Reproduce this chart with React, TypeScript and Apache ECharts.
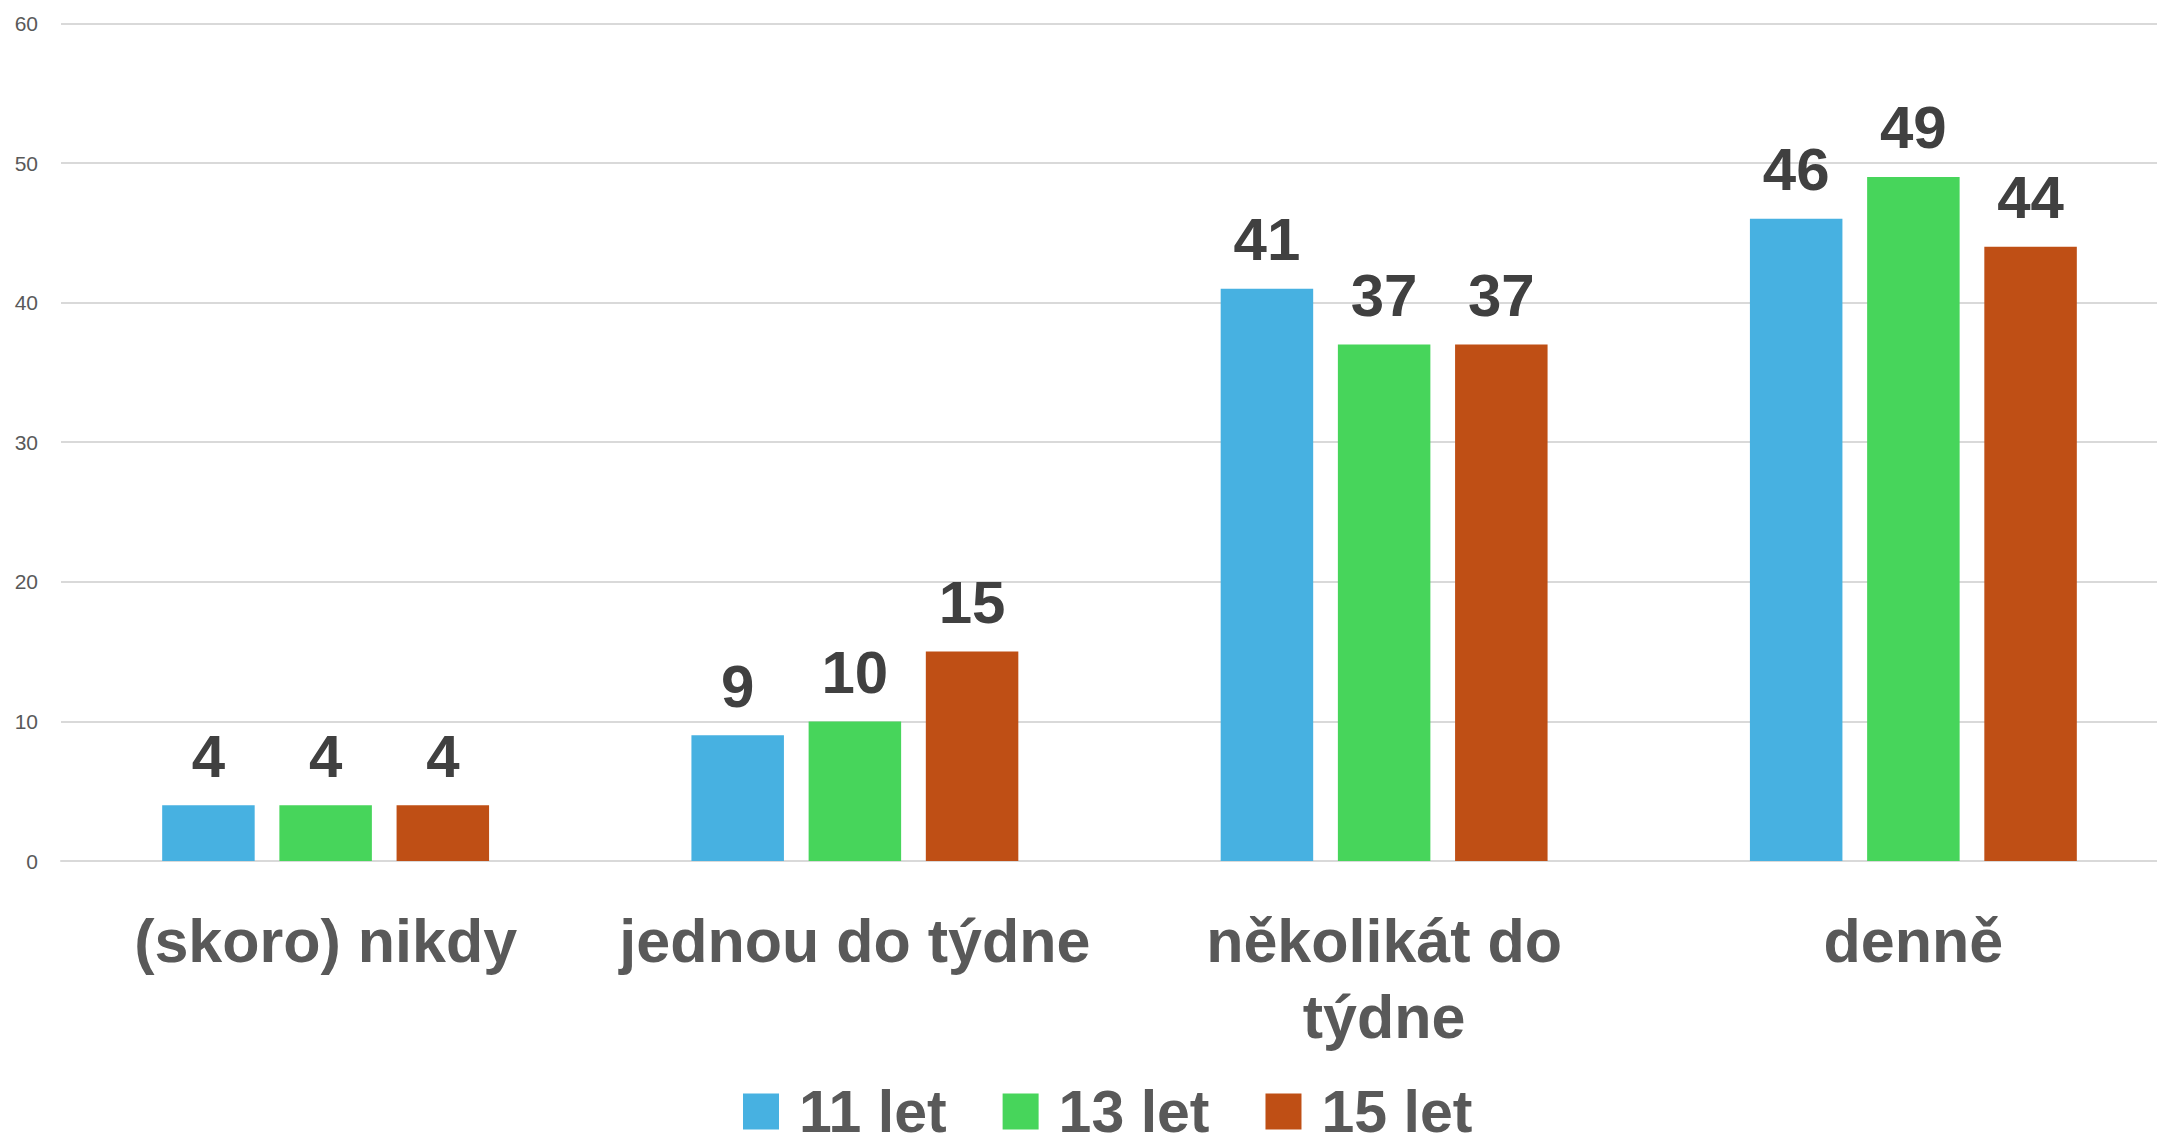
import React, { useEffect, useRef } from "react";
import * as echarts from "echarts";

const categories = ["(skoro) nikdy", "jednou do týdne", "několikát do\ntýdne", "denně"];
const seriesNames = ["11 let", "13 let", "15 let"];
const values11 = [4, 9, 41, 46];
const values13 = [4, 10, 37, 49];
const values15 = [4, 15, 37, 44];
const colors = ["#47B1E1", "#47D55B", "#BF4F15"];
const yTicks = { min: 0, max: 60, interval: 10 };

export default function App() {
  const ref = useRef<HTMLDivElement>(null);
  useEffect(() => {
    document.body.style.margin = "0";
    document.body.style.overflow = "hidden";
    if (!ref.current) return;
    const chart = echarts.init(ref.current, undefined, { renderer: "svg" });
    const data = [values11, values13, values15];
    const labelFont = "'Liberation Sans', Arial, sans-serif";
    chart.setOption({
      animation: false,
      backgroundColor: "#ffffff",
      grid: { left: 61, top: 23.4, width: 2117, height: 837.6, containLabel: false },
      legend: {
        left: 743,
        top: 1082,
        padding: 0,
        itemWidth: 36,
        itemHeight: 36,
        itemGap: 56,
        icon: "rect",
        data: seriesNames,
        textStyle: {
          fontFamily: labelFont,
          fontWeight: "bold",
          fontSize: 59,
          lineHeight: 50,
          color: "#595959",
          padding: [0, 0, 0, 15],
        },
      },
      xAxis: {
        type: "category",
        data: categories,
        axisLine: { show: true, lineStyle: { color: "#d9d9d9", width: 2 } },
        axisTick: { show: false },
        axisLabel: {
          fontFamily: labelFont,
          fontWeight: "bold",
          fontSize: 61,
          lineHeight: 76,
          color: "#595959",
          margin: 42,
          interval: 0,
        },
      },
      yAxis: {
        type: "value",
        min: yTicks.min,
        max: yTicks.max,
        interval: yTicks.interval,
        axisLine: { show: false },
        axisTick: { show: false },
        splitLine: { lineStyle: { color: "#d9d9d9", width: 2 } },
        axisLabel: {
          fontFamily: labelFont,
          fontSize: 21,
          color: "#595959",
          margin: 23,
        },
      },
      series: seriesNames.map((name, i) => ({
        name,
        type: "bar",
        data: data[i],
        barWidth: 92.5,
        barGap: "26.7%",
        itemStyle: { color: colors[i] },
        label: {
          show: true,
          position: "top",
          distance: 20,
          fontFamily: labelFont,
          fontWeight: "bold",
          fontSize: 60,
          lineHeight: 58,
          color: "#404040",
        },
      })),
    });
    return () => chart.dispose();
  }, []);
  return (
    <div
      ref={ref}
      style={{ position: "fixed", left: 0, top: 0, width: 2200, height: 1143, background: "#fff" }}
    />
  );
}
